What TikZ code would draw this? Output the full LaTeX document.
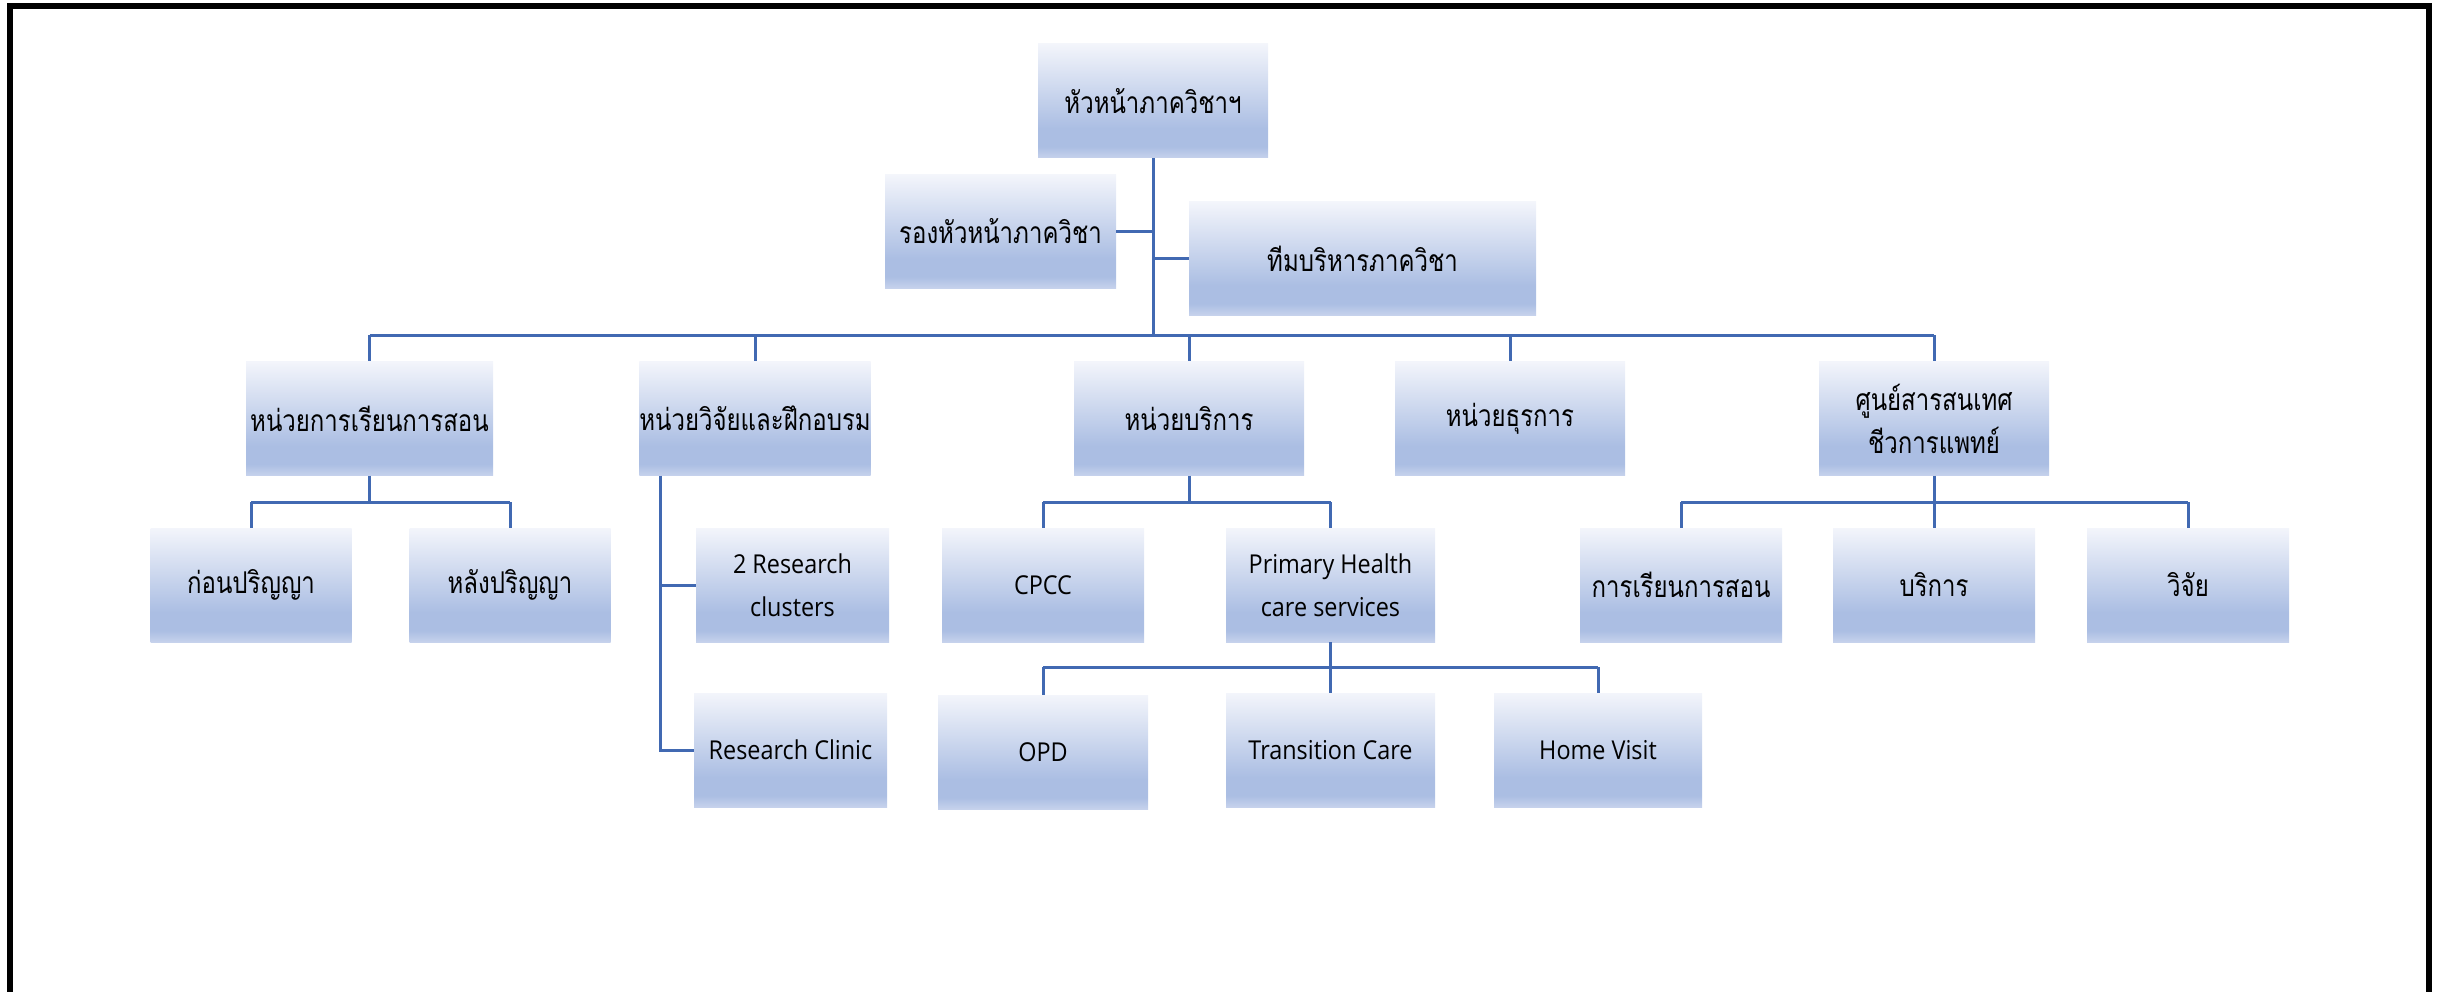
\documentclass[tikz,border=0pt]{standalone}
\usepackage{fontspec}
\setmainfont{Open Sans}[FakeStretch=0.9]
\newfontfamily\thfont[Script=Thai,FakeStretch=0.8]{Loma}
\definecolor{gTop}{HTML}{F3F5FB}
\definecolor{gDark}{HTML}{ABBEE3}
\definecolor{gBot}{HTML}{C6D2EC}
\definecolor{linkblue}{HTML}{4169B2}
\pgfdeclareverticalshading{boxgrad}{100bp}{color(0bp)=(gBot); color(25bp)=(gBot); color(30bp)=(gDark); color(38bp)=(gDark); color(75bp)=(gTop); color(100bp)=(gTop)}
\tikzset{
  unit/.style={shading=boxgrad, inner sep=0pt, minimum height=114pt,
    align=center, text=black, font=\fontsize{26}{43}\selectfont},
  thunit/.style={unit, font=\thfont\fontsize{30}{43}\selectfont},
  link/.style={draw=linkblue, line width=3pt}
}
\begin{document}
\begin{tikzpicture}[x=1pt,y=-1pt]
\useasboundingbox (0,0) rectangle (2440,992);
% outer frame (open at the bottom)
\draw[line width=6pt, line cap=rect] (10,992) -- (10,6) -- (2429,6) -- (2429,992);

% department head and its staff
\node[thunit, minimum width=230pt] (head) at (1153,101) {หัวหน้าภาควิชาฯ};
\node[thunit, minimum width=231pt, minimum height=113pt] (deputy) at (1000.5,231.5) {รองหัวหน้าภาควิชา};
\node[thunit, minimum width=347pt, minimum height=113pt] (team) at (1362.5,258.5) {ทีมบริหารภาควิชา};

% units
\node[thunit, minimum width=247pt] (teach) at (369.5,418.5) {หน่วยการเรียนการสอน};
\node[thunit, minimum width=230pt] (research) at (755,418.5) {หน่วยวิจัยและฝึกอบรม};
\node[thunit, minimum width=230pt] (service) at (1189,418.5) {หน่วยบริการ};
\node[thunit, minimum width=230pt] (admin) at (1510,418.5) {หน่วยธุรการ};
\node[thunit, minimum width=230pt] (info) at (1934,418.5) {ศูนย์สารสนเทศ\\ชีวการแพทย์};

% sub-units
\node[thunit, minimum width=201pt] (pre) at (251,585) {ก่อนปริญญา};
\node[thunit, minimum width=201pt] (post) at (510,585) {หลังปริญญา};
\node[unit, minimum width=193pt] (clusters) at (792.5,585) {2 Research\\clusters};
\node[unit, minimum width=193pt] (clinic) at (790.5,750) {Research Clinic};
\node[unit, minimum width=202pt] (cpcc) at (1043,585) {CPCC};
\node[unit, minimum width=209pt] (phc) at (1330.5,585) {Primary Health\\care services};
\node[unit, minimum width=210pt] (opd) at (1043,752) {OPD};
\node[unit, minimum width=209pt] (trans) at (1330.5,750) {Transition Care};
\node[unit, minimum width=208pt] (home) at (1598,750) {Home Visit};
\node[thunit, minimum width=202pt] (iteach) at (1681,585) {การเรียนการสอน};
\node[thunit, minimum width=202pt] (iserv) at (1934,585) {บริการ};
\node[thunit, minimum width=202pt] (ires) at (2188,585) {วิจัย};

% bus lines
\coordinate (busA) at (1153,335);
\coordinate (busB) at (0,502);
\coordinate (busC) at (0,667);
\coordinate (rline) at ([xshift=21pt]research.south west);

% head to units
\draw[link] (head.south) -- (busA);
\draw[link] (deputy.east) -- (deputy.east -| head);
\draw[link] (team.west) -- (team.west -| head);
\draw[link] (teach |- busA) -- (info |- busA);
\foreach \u in {teach,research,service,admin,info}
  \draw[link] (\u |- busA) -- (\u.north);

% teaching unit
\draw[link] (teach.south) -- (teach |- busB);
\draw[link] (pre |- busB) -- (post |- busB);
\foreach \u in {pre,post} \draw[link] (\u |- busB) -- (\u.north);

% research unit
\draw[link] (rline) -- (rline |- clinic.west) -- (clinic.west);
\draw[link] (rline |- clusters.west) -- (clusters.west);

% service unit
\draw[link] (service.south) -- (service |- busB);
\draw[link] (cpcc |- busB) -- (phc |- busB);
\foreach \u in {cpcc,phc} \draw[link] (\u |- busB) -- (\u.north);
\draw[link] (phc.south) -- (phc |- busC);
\draw[link] (opd |- busC) -- (home |- busC);
\foreach \u in {opd,trans,home} \draw[link] (\u |- busC) -- (\u.north);

% information centre
\draw[link] (info.south) -- (info |- busB);
\draw[link] (iteach |- busB) -- (ires |- busB);
\foreach \u in {iteach,iserv,ires} \draw[link] (\u |- busB) -- (\u.north);
\end{tikzpicture}
\end{document}
